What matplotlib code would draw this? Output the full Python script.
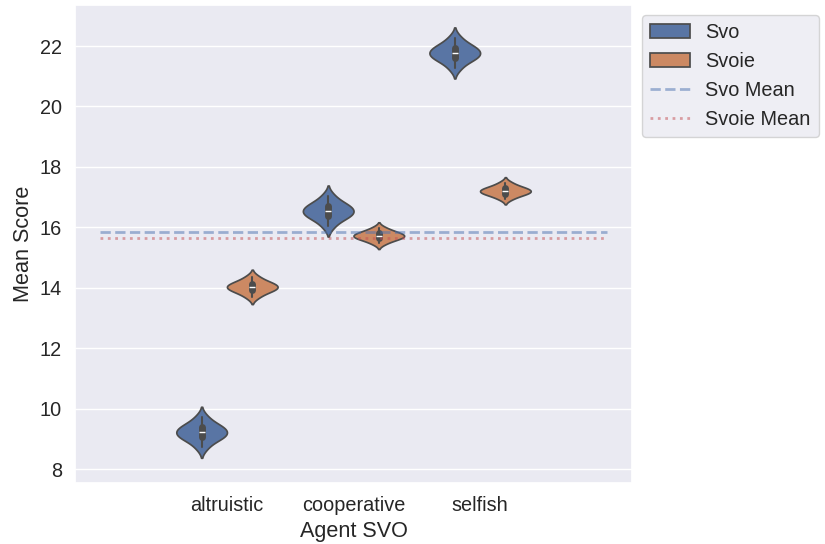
import numpy as np
import pandas as pd
import matplotlib
matplotlib.use("Agg")
import matplotlib.pyplot as plt
import seaborn as sns

# sample scores per agent SVO
categories = ["altruistic", "cooperative", "selfish"]
svo_altruistic = [8.72, 8.95, 9.03, 9.09, 9.15, 9.22, 9.29, 9.35, 9.42, 9.5, 9.72]
svo_cooperative = [16.04, 16.27, 16.35, 16.41, 16.47, 16.54, 16.61, 16.67, 16.74, 16.82, 17.04]
svo_selfish = [21.27, 21.5, 21.58, 21.64, 21.7, 21.77, 21.84, 21.9, 21.97, 22.05, 22.27]
svoie_altruistic = [13.7, 13.85, 13.91, 13.96, 14.01, 14.05, 14.1, 14.15, 14.21, 14.36]
svoie_cooperative = [15.47, 15.58, 15.63, 15.67, 15.7, 15.74, 15.78, 15.82, 15.87, 15.98]
svoie_selfish = [16.95, 17.06, 17.11, 17.15, 17.18, 17.22, 17.26, 17.3, 17.35, 17.47]

svo_groups = [svo_altruistic, svo_cooperative, svo_selfish]
svoie_groups = [svoie_altruistic, svoie_cooperative, svoie_selfish]

rows = []
for cat, a, b in zip(categories, svo_groups, svoie_groups):
    rows += [(cat, "Svo", v) for v in a]
    rows += [(cat, "Svoie", v) for v in b]
df = pd.DataFrame(rows, columns=["Agent SVO", "Type", "Mean Score"])

sns.set_theme(style="darkgrid", font_scale=1.3)
plt.rcParams['font.family'] = ['Liberation Sans', 'DejaVu Sans']

fig, ax = plt.subplots(figsize=(8.25, 5.44), dpi=100)
fig.subplots_adjust(left=0.091, right=0.766, top=0.991, bottom=0.112)

sns.violinplot(data=df, x="Agent SVO", y="Mean Score", hue="Type",
               density_norm="width", inner_kws=dict(box_width=5, whis_width=1.5),
               ax=ax)

# overall means, drawn across the category span
svo_mean = np.mean([np.mean(g) for g in svo_groups])
svoie_mean = np.mean([np.mean(g) for g in svoie_groups])
ax.plot([-1, 3], [svo_mean, svo_mean], ls="--", lw=2, color="C0", alpha=0.5, label="Svo Mean")
ax.plot([-1, 3], [svoie_mean, svoie_mean], ls=":", lw=2, color="C3", alpha=0.5, label="Svoie Mean")

ax.set_xlim(-1.2, 3.2)
ax.set_ylim(7.54, 23.36)
ax.set_yticks(range(8, 23, 2))

ax.legend(loc="upper left", bbox_to_anchor=(1, 1))

plt.savefig("out.png")
